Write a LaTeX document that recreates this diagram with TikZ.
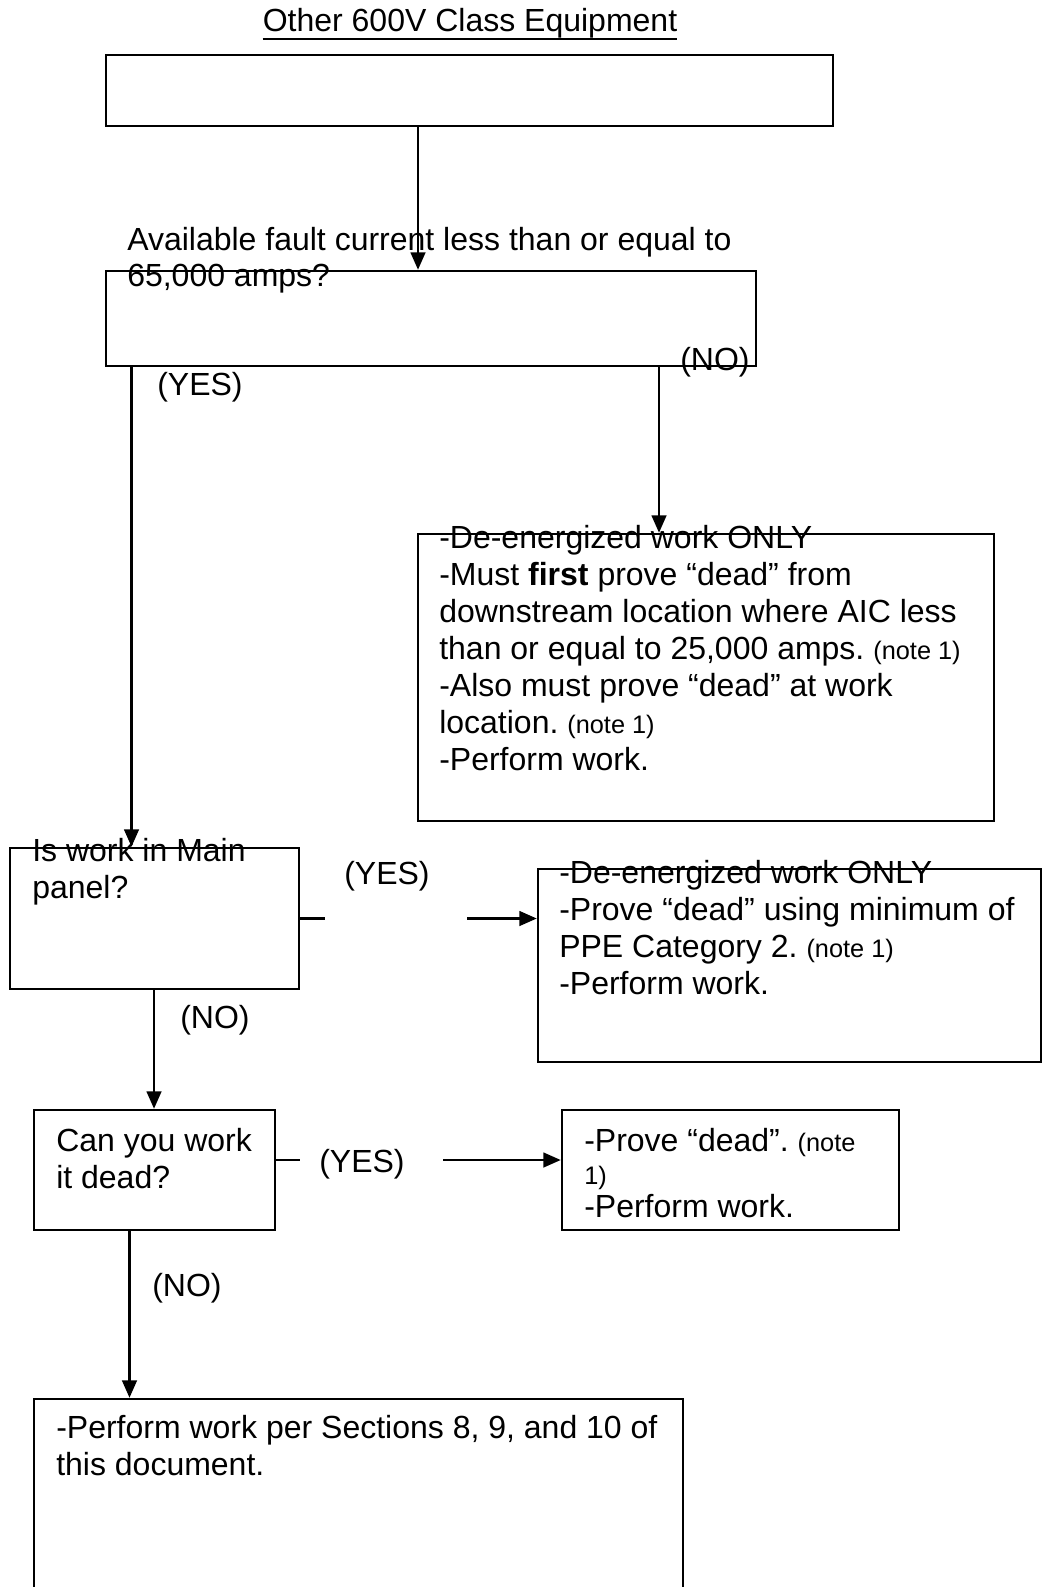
\documentclass[tikz,border=0pt]{standalone}
\usepackage{fontspec}
\setmainfont{Liberation Sans}
\usetikzlibrary{arrows.meta,fit}
\frenchspacing
% smaller type for the "(note 1)" references
\newcommand{\notetxt}[1]{{\fontsize{19pt}{22pt}\selectfont #1}}
% block of left-aligned lines whose baseline is the first line
\newcommand{\txtlines}[1]{\parbox[t]{16cm}{\raggedright\frenchspacing #1}}
\begin{document}
\begin{tikzpicture}[x=0.75pt,y=-0.75pt,
  box/.style={draw, line width=1.9pt, inner sep=0pt, rectangle},
  lbl/.style={anchor=base west, inner sep=0pt, font={\fontsize{24pt}{27.75pt}\selectfont}},
  link/.style={line width=1.7pt},
  arr/.style={link, -{Triangle[length=13pt,width=11pt]}}]
\useasboundingbox (0,0) rectangle (1043,1587);
\clip (0,0) rectangle (1043,1587);

% title
\node[lbl, anchor=base] (title) at (470,32) {Other 600V Class Equipment};
\draw[line width=1.6pt] ([yshift=-5.25pt]title.base west) -- ([yshift=-5.25pt]title.base east);

% boxes
\node[box, fit={(106,55) (833,126)}] (start) {};
\node[box, fit={(106,271) (756,366)}] (q1) {};
\node[box, fit={(418,534) (994,821)}] (dead1) {};
\node[box, fit={(10,848) (299,989)}] (q2) {};
\node[box, fit={(538,869) (1041,1062)}] (dead2) {};
\node[box, fit={(34,1110) (275,1230)}] (q3) {};
\node[box, fit={(562,1110) (899,1230)}] (dead3) {};
\node[box, fit={(34,1399) (683,1640)}] (final) {};

% box texts
\node[lbl] (q1t) at (127,250) {\txtlines{Available fault current less than or equal to\\65,000 amps?}};
\node[lbl] (dead1t) at (439,548) {\txtlines{-De-energized work ONLY\\
-Must \textbf{first} prove “dead” from\\
downstream location where AIC less\\
than or equal to 25,000 amps. \notetxt{(note 1)}\\
-Also must prove “dead” at work\\
location. \notetxt{(note 1)}\\
-Perform work.}};
\node[lbl] (q2t) at (32,861) {\txtlines{Is work in Main\\panel?}};
\node[lbl] (dead2t) at (559,883) {\txtlines{-De-energized work ONLY\\
-Prove “dead” using minimum of\\
PPE Category 2. \notetxt{(note 1)}\\
-Perform work.}};
\node[lbl] (q3t) at (56,1151) {\txtlines{Can you work\\it dead?}};
\node[lbl] (dead3t) at (584,1151) {\txtlines{-Prove “dead”. \notetxt{(note}\\[-2.75pt]
\notetxt{1)}\\[-2.75pt]
-Perform work.}};
\node[lbl] (finalt) at (56,1438) {\txtlines{-Perform work per Sections 8, 9, and 10 of\\this document.}};

% branch labels
\node[lbl] (no1) at (680,370) {(NO)};
\node[lbl] (yes1) at (157,395) {(YES)};
\node[lbl] (yes2) at (344,884) {(YES)};
\node[lbl] (no2) at (180,1028) {(NO)};
\node[lbl] (yes3) at (319,1172) {(YES)};
\node[lbl] (no3) at (152,1296) {(NO)};

% connector columns and rows
\coordinate (xa) at (418,0);
\coordinate (xb) at (659,0);
\coordinate (xc) at (131.5,0);
\coordinate (xd) at (154,0);
\coordinate (xe) at (129.5,0);
\coordinate (g1) at (467,918.5);
\coordinate (ya) at (0,1160);
\coordinate (g2) at (443,1160);

% connectors
\draw[arr] (start.south -| xa) -- (q1.north -| xa);
\draw[arr] (q1.south -| xb) -- (dead1.north -| xb);
\draw[arr] (q1.south -| xc) -- (q2.north -| xc);
\draw[link] (q2.east) -- ++(25,0);
\draw[arr] (g1) -- (g1 -| dead2.west);
\draw[arr] (q2.south -| xd) -- (q3.north -| xd);
\draw[link] (q3.east |- ya) -- ++(24,0);
\draw[arr] (g2) -- (g2 -| dead3.west);
\draw[arr] (q3.south -| xe) -- (final.north -| xe);
\end{tikzpicture}
\end{document}
